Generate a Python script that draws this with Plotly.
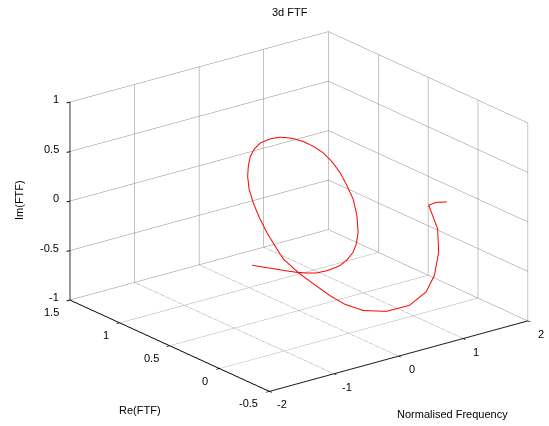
import plotly.graph_objects as go

# Normalised frequency, Re(FTF), Im(FTF)
freq = [-1.5, -1.42, -1.33, -1.24, -1.15, -1.06, -0.97, -0.88, -0.79, -0.72,
        -0.65, -0.59, -0.54, -0.49, -0.45, -0.41, -0.38, -0.35, -0.32, -0.29,
        -0.26, -0.23, -0.2, -0.17, -0.14, -0.11, -0.08, -0.055, -0.03, 0.0,
        0.04, 0.09, 0.14, 0.18, 0.22, 0.28, 0.34, 0.40, 0.46, 0.53,
        0.62, 0.72, 0.80, 0.87, 0.95, 1.03, 1.10, 1.20, 1.35, 1.50]
re_ftf = [-0.003, -0.064, -0.125, -0.177, -0.225, -0.259, -0.308, -0.362, -0.423, -0.448,
          -0.465, -0.458, -0.444, -0.399, -0.336, -0.247, -0.158, -0.058, 0.051, 0.170,
          0.289, 0.419, 0.558, 0.677, 0.796, 0.875, 0.935, 0.971, 0.994, 1.0,
          0.984, 0.955, 0.911, 0.854, 0.797, 0.669, 0.559, 0.448, 0.337, 0.200,
          0.025, -0.142, -0.257, -0.295, -0.286, -0.224, -0.129, -0.024, 0.000, -0.009]
im_ftf = [-0.043, -0.049, -0.056, -0.066, -0.075, -0.082, -0.075, -0.041, 0.020, 0.076,
          0.149, 0.219, 0.321, 0.465, 0.589, 0.682, 0.766, 0.825, 0.859, 0.864,
          0.851, 0.818, 0.760, 0.682, 0.581, 0.479, 0.369, 0.254, 0.131, 0.0,
          -0.141, -0.287, -0.429, -0.547, -0.659, -0.760, -0.830, -0.897, -0.944, -0.956,
          -0.900, -0.780, -0.606, -0.434, -0.217, -0.026, 0.051, 0.092, 0.082, 0.065]

freq_ticks = [-2, -1, 0, 1, 2]
re_ticks = [-0.5, 0, 0.5, 1, 1.5]
im_ticks = [-1, -0.5, 0, 0.5, 1]

FONT = "Liberation Sans, Arial, sans-serif"
ML, MT, MB = 0, 0, 3
W, H = 549, 426

def px(x):
    return (x - ML) / (W - ML)

def py(y):
    return 1 - (y - MT) / (H - MT - MB)

fig = go.Figure(go.Scatter3d(
    x=freq, y=re_ftf, z=im_ftf, mode="lines",
    line=dict(color="#ff0000", width=2), showlegend=False, hoverinfo="skip"))

def ax(rng, ticks):
    return dict(range=rng, tickvals=ticks, showticklabels=False,
                showbackground=False, showgrid=True, gridcolor="#888888", gridwidth=1,
                showline=True, linecolor="black", linewidth=2, zeroline=False,
                ticks="outside", ticklen=4, tickcolor="black", tickwidth=2,
                title=dict(text=""), showspikes=False, autorange=False)

# tick labels as scene annotations anchored at the axis tick positions
tick_ann = []
for f in freq_ticks:
    tick_ann.append(dict(x=f, y=-0.5, z=-1, text=f"{f:g}", xanchor="center", yanchor="middle",
                         xshift=13, yshift=-13))
for r in re_ticks:
    tick_ann.append(dict(x=-2, y=r, z=-1, text=f"{r:g}", xanchor="right", yanchor="middle",
                         xshift=-9, yshift=-12))
for zt in im_ticks:
    tick_ann.append(dict(x=-2, y=1.5, z=zt, text=f"{zt:g}", xanchor="right", yanchor="middle",
                         xshift=-9, yshift=3))
for a in tick_ann:
    a.update(showarrow=False, font=dict(family=FONT, size=11, color="black"))

S = 1.544
R = 2.0
t = 0.1152
cx, cy = -t * 0.792, t * 0.611
fig.update_layout(
    width=W, height=H,
    paper_bgcolor="white",
    margin=dict(l=ML, r=0, t=MT, b=MB),
    scene=dict(
        xaxis=ax([-2, 2], freq_ticks),
        yaxis=ax([-0.5, 1.5], re_ticks),
        zaxis=ax([-1, 1], im_ticks),
        aspectmode="manual", aspectratio=dict(x=S, y=S, z=0.648 * S),
        camera=dict(eye=dict(x=-0.5716 * R + cx, y=-0.7409 * R + cy, z=0.3535 * R),
                    up=dict(x=0, y=0, z=1), center=dict(x=cx, y=cy, z=0),
                    projection=dict(type="orthographic")),
        bgcolor="white",
        annotations=tick_ann,
    ),
    annotations=[
        dict(text="3d FTF", x=px(290), y=py(12)),
        dict(text="Normalised Frequency", x=px(452), y=py(414)),
        dict(text="Re(FTF)", x=px(140), y=py(410)),
        dict(text="Im(FTF)", x=px(19), y=py(200), textangle=-90),
    ],
)
fig.update_annotations(xref="paper", yref="paper", xanchor="center", yanchor="middle",
                       showarrow=False, font=dict(family=FONT, size=11, color="black"))

fig.write_html("out.html")
